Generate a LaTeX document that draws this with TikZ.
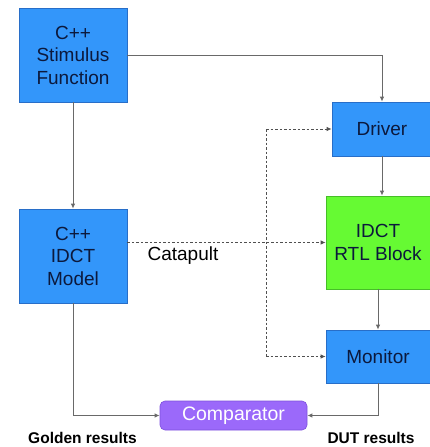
\documentclass[tikz,border=0pt]{standalone}
\usepackage{fontspec}
\setmainfont{Liberation Sans}
\usetikzlibrary{arrows.meta}
\definecolor{boxblue}{RGB}{51,150,250}
\definecolor{boxblueline}{RGB}{40,110,200}
\definecolor{boxgreen}{RGB}{102,250,51}
\definecolor{boxgreenline}{RGB}{70,190,40}
\definecolor{boxpurple}{RGB}{155,105,250}
\definecolor{boxpurpleline}{RGB}{125,80,220}
\definecolor{txtnavy}{RGB}{12,25,60}
\definecolor{wire}{RGB}{105,105,105}
\definecolor{dashwire}{RGB}{80,80,80}
\begin{document}
\begin{tikzpicture}[x=1pt,y=-1pt,
  bluebox/.style={draw=boxblueline,line width=0.6pt,fill=boxblue,text=txtnavy,
    font=\fontsize{19}{22.5}\selectfont,align=center,inner sep=0pt},
  greenbox/.style={draw=boxgreenline,line width=0.6pt,fill=boxgreen,text=txtnavy,
    font=\fontsize{19}{22.5}\selectfont,align=center,inner sep=0pt},
  compbox/.style={draw=boxpurpleline,line width=0.6pt,fill=boxpurple,text=white,
    rounded corners=5pt,font=\fontsize{19.5}{22}\selectfont,inner sep=0pt},
  wireline/.style={draw=wire,line width=1pt,-{Latex[length=5pt,width=4.5pt]}},
  dashline/.style={draw=dashwire,line width=0.9pt,dash pattern=on 2.5pt off 2pt},
  dasharrow/.style={dashline,-{Latex[length=5pt,width=4.5pt]}},
  caption/.style={font=\bfseries\fontsize{15.5}{18}\selectfont,text=black}
]
\useasboundingbox (0,0) rectangle (430,447);

\node[bluebox,minimum width=108pt,minimum height=94pt] (stim) at (73,55) {C++\\Stimulus\\Function};
\node[bluebox,minimum width=108pt,minimum height=94pt] (model) at (73,256) {C++\\IDCT\\Model};
\node[bluebox,minimum width=100pt,minimum height=54pt] (driver) at (382,129) {Driver};
\node[greenbox,minimum width=104pt,minimum height=93pt] (rtl) at (378,242.5) {IDCT\\RTL Block};
\node[bluebox,minimum width=104pt,minimum height=53pt] (monitor) at (378,356.5) {Monitor};
\node[compbox,minimum width=147pt,minimum height=29pt] (comp) at (233.5,415.5) {Comparator};

\node[font=\fontsize{19}{22}\selectfont,text=black] (cat) at (183,256) {Catapult};
\node[caption] (golden) at (82.5,438) {Golden results};
\node[caption] (dut) at (371,438) {DUT results};

\coordinate (ctop) at (266,129);
\coordinate (cbot) at (266,356.5);

\draw[wireline] (stim.south) -- (model.north);
\draw[wireline] (stim.east) -| (driver.north);
\draw[wireline] (driver.south) -- (driver.south |- rtl.north);
\draw[wireline] (rtl.south) -- (monitor.north);
\draw[wireline] (model.south) |- (comp.west);
\draw[wireline] (monitor.south) |- (comp.east);

\draw[dasharrow] (rtl.west -| model.east) -- (rtl.west);
\draw[dashline] (ctop) -- (cbot);
\draw[dasharrow] (ctop) -- (driver.west);
\draw[dasharrow] (cbot) -- (monitor.west);
\end{tikzpicture}
\end{document}
